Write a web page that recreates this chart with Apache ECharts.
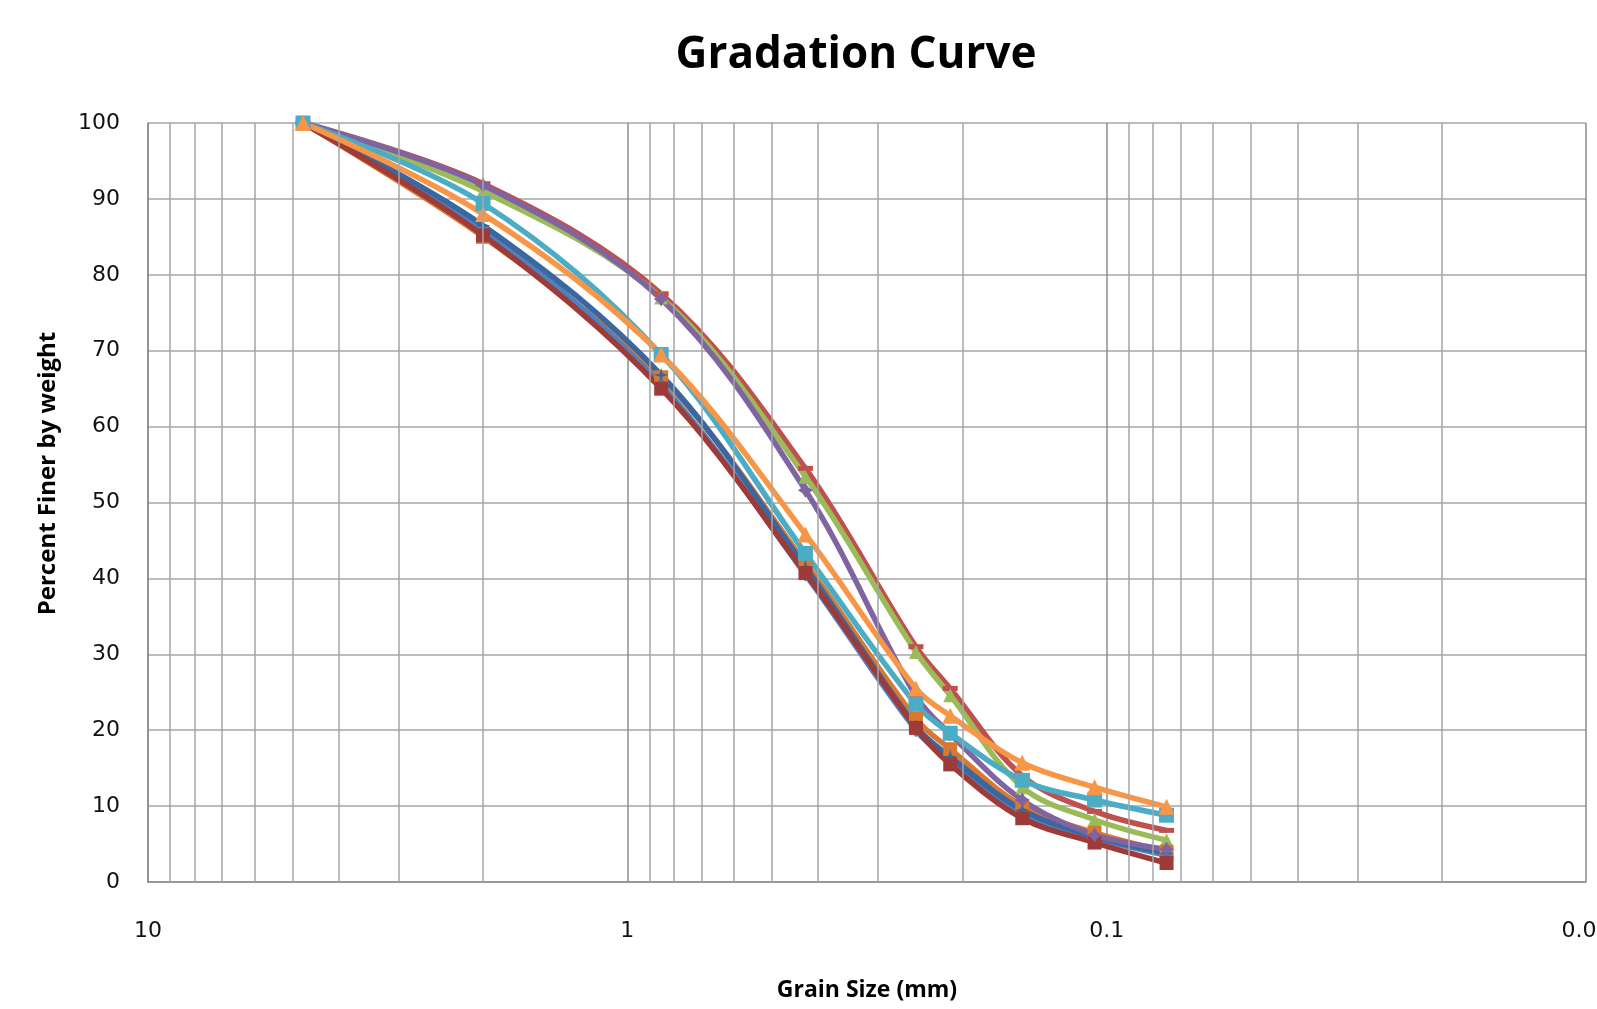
<!DOCTYPE html>
<html>
<head>
<meta charset="utf-8">
<script src="https://cdn.jsdelivr.net/npm/echarts@6/dist/echarts.min.js"></script>
<style>
html,body{margin:0;padding:0;background:#fff;}
#chart{width:1597px;height:1009px;}
</style>
</head>
<body>
<div id="chart"></div>
<script>
// Sieve sizes (mm)
const sieveSizes = [4.75, 2.0, 0.85, 0.425, 0.25, 0.212, 0.15, 0.106, 0.075];

// Percent finer for each sample
const redUpper   = [100, 92.0, 77.5, 54.5, 31.0, 25.5, 14.0, 9.3, 6.8];
const greenTri   = [100, 91.0, 77.0, 53.4, 30.3, 24.6, 12.5, 8.2, 5.5];
const darkOrange = [100, 85.0, 66.5, 42.0, 21.5, 17.5, 10.0, 6.5, 4.0];
const blueDia    = [100, 86.0, 65.5, 40.5, 20.0, 16.0, 9.0, 5.8, 3.5];
const darkBlue   = [100, 86.5, 66.8, 41.5, 20.5, 16.5, 9.5, 6.0, 3.8];
const darkRedSq  = [100, 85.2, 65.0, 40.7, 20.3, 15.5, 8.4, 5.2, 2.5];
const purpleDia  = [100, 91.8, 76.8, 51.6, 24.5, 19.5, 10.8, 6.2, 4.3];
const aquaSq     = [100, 89.4, 69.5, 43.3, 23.4, 19.6, 13.4, 10.8, 8.8];
const orangeTri  = [100, 88.0, 69.5, 45.8, 25.5, 21.9, 15.7, 12.5, 9.9];

// Axis ticks
const xMajorTicks = [10, 1, 0.1, 0.01];
const xMinorGrid = [9,8,7,6,5,4,3,2, 0.9,0.8,0.7,0.6,0.5,0.4,0.3,0.2, 0.09,0.08,0.07,0.06,0.05,0.04,0.03,0.02];

const dashPath = 'path://M0,0 L12,0 L12,3 L0,3 Z';

const seriesDefs = [
  {name:'S1', data: redUpper,   color:'#C0504D', symbol: dashPath, size:[15,5]},
  {name:'S2', data: greenTri,   color:'#9BBB59', symbol:'triangle', size:14},
  {name:'S3', data: darkOrange, color:'#D9782F', symbol:'rect', size:14},
  {name:'S4', data: blueDia,    color:'#4F81BD', symbol:'diamond', size:14},
  {name:'S5', data: darkBlue,   color:'#3A67A0', symbol:'path://M5,0 L6,4 L10,5 L6,6 L5,10 L4,6 L0,5 L4,4 Z', size:15},
  {name:'S6', data: darkRedSq,  color:'#9E3B39', symbol:'rect', size:14},
  {name:'S7', data: purpleDia,  color:'#8064A2', symbol:'path://M5,0 L7,3 L10,5 L7,7 L5,10 L3,7 L0,5 L3,3 Z', size:15},
  {name:'S8', data: aquaSq,     color:'#4BACC6', symbol:'rect', size:15},
  {name:'S9', data: orangeTri,  color:'#F79646', symbol:'triangle', size:16}
];

const series = seriesDefs.map(d => ({
  name: d.name,
  type: 'line',
  smooth: 0.35,
  data: sieveSizes.map((s, i) => [s, d.data[i]]),
  symbol: d.symbol,
  symbolSize: d.size,
  showAllSymbol: true,
  lineStyle: {color: d.color, width: 5.5},
  itemStyle: {color: d.color, borderWidth: 0},
  emphasis: {disabled: true},
  z: 3
}));

// minor log gridlines drawn with markLine on an empty helper series
series.unshift({
  type: 'line',
  data: [],
  silent: true,
  z: 1,
  markLine: {
    silent: true,
    symbol: ['none','none'],
    label: {show: false},
    lineStyle: {color: '#a6a6a6', width: 1.5, type: 'solid'},
    data: xMinorGrid.map(v => ({xAxis: v}))
  }
});

const chart = echarts.init(document.getElementById('chart'), null, {renderer: 'canvas'});
chart.setOption({
  animation: false,
  backgroundColor: '#ffffff',
  title: {
    text: 'Gradation Curve',
    left: 851,
    top: 28,
    textAlign: 'center',
    textStyle: {fontFamily: 'Open Sans', fontWeight: 'bold', fontSize: 44, color: '#000'}
  },
  grid: {left: 148, right: 11, top: 123, bottom: 127, containLabel: false, outerBoundsMode: 'none'},
  xAxis: {
    type: 'log',
    logBase: 10,
    min: 0.01,
    max: 10,
    inverse: true,
    name: 'Grain Size (mm)',
    nameLocation: 'middle',
    nameGap: 97,
    nameTextStyle: {fontFamily: 'Open Sans', fontWeight: 'bold', fontSize: 23, color: '#000'},
    axisLine: {show: true, lineStyle: {color: '#8c8c8c', width: 1.5}},
    axisTick: {show: false},
    axisLabel: {
      margin: 38,
      fontFamily: 'DejaVu Sans',
      fontSize: 22,
      color: '#111',
      formatter: v => {
        const r = xMajorTicks.find(t => Math.abs(t - v) / t < 1e-6);
        return r === undefined ? '' : String(r);
      }
    },
    splitLine: {show: true, lineStyle: {color: '#8c8c8c', width: 1.5}}
  },
  yAxis: {
    type: 'value',
    min: 0,
    max: 100,
    interval: 10,
    name: 'Percent Finer by weight',
    nameLocation: 'middle',
    nameGap: 88,
    nameRotate: 90,
    nameTextStyle: {fontFamily: 'Open Sans', fontWeight: 'bold', fontSize: 24, color: '#000', padding: [0, 0, 0, 58]},
    axisLine: {show: true, lineStyle: {color: '#8c8c8c', width: 1.5}},
    axisTick: {show: false},
    axisLabel: {margin: 28, fontFamily: 'DejaVu Sans', fontSize: 22, color: '#111'},
    splitLine: {show: true, lineStyle: {color: '#a6a6a6', width: 1.5}}
  },
  series: series
});
</script>
</body>
</html>
